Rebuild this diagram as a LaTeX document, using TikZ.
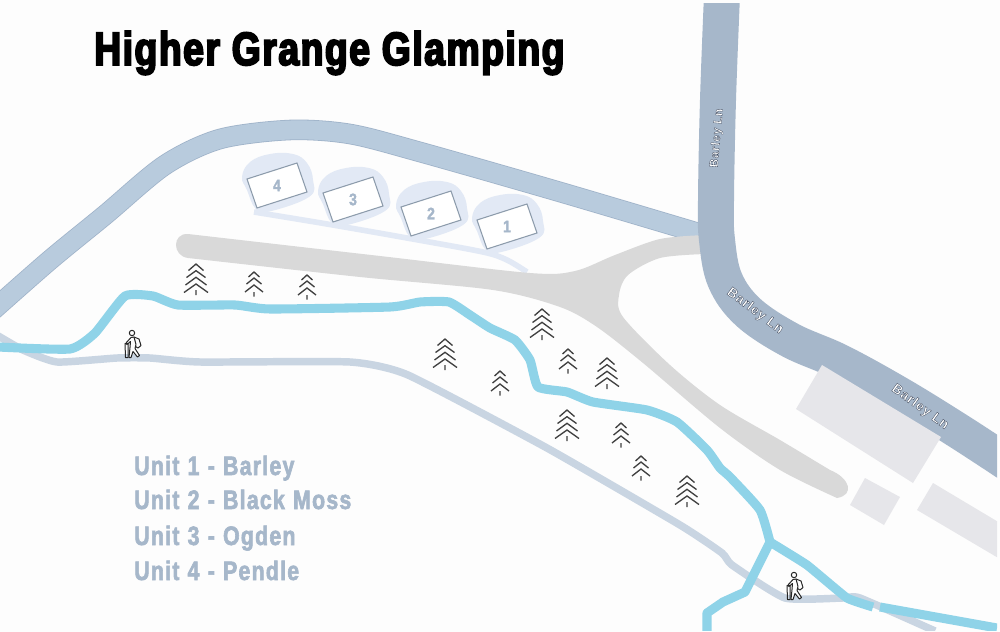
\documentclass[tikz,border=0pt]{standalone}
\usepackage{fontspec}
\setmainfont{Liberation Sans}
\newfontfamily\titlefont[FakeStretch=0.8,FakeBold=4,LetterSpace=3.2]{Liberation Sans Bold}
\newfontfamily\legendfont[FakeStretch=0.8,FakeBold=2.2,LetterSpace=4.6,WordSpace=1.15]{Liberation Sans Bold}
\newfontfamily\numfont[FakeStretch=0.85,FakeBold=1.5]{Liberation Sans Bold}
\newfontfamily\labelfont[LetterSpace=5]{Liberation Sans Bold}
\definecolor{paper}{HTML}{FDFDFD}
\definecolor{lane}{HTML}{A6B7CA}
\definecolor{upperroad}{HTML}{B8CBDD}
\definecolor{upperedge}{HTML}{9FB3C9}
\definecolor{track}{HTML}{D9D9D9}
\definecolor{trail}{HTML}{8FD3E8}
\definecolor{walk}{HTML}{C9D5E2}
\definecolor{shed}{HTML}{E6E6EA}
\definecolor{pad}{HTML}{E2E9F5}
\definecolor{treeink}{HTML}{404040}
\tikzset{
  trailline/.style={draw=trail,line width=6.8pt,line join=round},
  walkline/.style={draw=walk,line width=5.6pt,line join=round},
  shedbox/.style={fill=shed},
  unitbox/.style={fill=white,draw=lane!85!black,line width=0.8pt},
  unitnum/.style={font=\numfont\fontsize{12.5}{13}\selectfont,text=lane,inner sep=0pt},
  legendtext/.style={font=\legendfont\fontsize{20}{20}\selectfont,text=lane,anchor=base west,inner sep=0pt},
  lanelabel/.style={font=\labelfont\fontsize{9}{9}\selectfont,text=white,inner sep=0pt},
  widelabel/.style={font=\labelfont\fontsize{10.2}{10}\selectfont,text=white,inner sep=0pt},
  treeline/.style={draw=treeink,line width=1pt},
  hikerline/.style={draw=black!85,line width=0.75pt,line join=round,line cap=round},
}
\newcommand{\outlined}[1]{\special{pdf:code 2 Tr 0.25 w 0.25 0.29 0.37 RG}#1\special{pdf:code 0 Tr}}
\newcommand{\bigtree}[2]{\begin{scope}[shift={(#1,#2)}]
  \draw[treeline] (-7.5,6.5)--(0,0)--(7.5,6.5) (-9.5,13.5)--(0,6.7)--(9.5,13.5)
     (-10.5,21)--(0,13.3)--(10.5,21) (-12,28.5)--(0,20)--(12,28.5) (0,26)--(0,31);
\end{scope}}
\newcommand{\smalltree}[2]{\begin{scope}[shift={(#1,#2)}]
  \draw[treeline] (-5.5,5)--(0,0)--(5.5,5) (-7.5,12)--(0,6)--(7.5,12)
     (-9,20)--(0,13)--(9,20) (0,20)--(0,24.5);
\end{scope}}
\newcommand{\hiker}[2]{\begin{scope}[shift={(#1,#2)}]
  \draw[hikerline] (6,-16.5) circle (2.7);
  \draw[hikerline,fill=paper] (8,-12.5) -- (13,-10.5) -- (15,-4) -- (12,-1.5) -- (9.5,-3) -- cycle;
  \draw[hikerline,fill=paper] (5,-12) -- (8,-12.5) -- (10,-5) -- (9,-1) -- (13.5,6) -- (11.5,7.5) -- (7,2) -- (5,8) -- (3,8) -- (4,-2) -- (4.5,-8) -- (1,-5) -- (0,-6.5) -- cycle;
  \draw[hikerline] (-1,-6) -- (2,-6) -- (2,8) -- (-0.5,8) -- cycle;
\end{scope}}
\newcommand{\pod}[4]{\begin{scope}[shift={(#1,#2)}]
  \fill[pad] plot[smooth cycle,tension=0.7] coordinates {(242,177) (250,162) (270,154) (293,154) (307,163) (313,180) (309,197) (267,212) (255,208) (247,190)};
  \draw[unitbox] (297,163) -- (307,192) -- (257,208) -- (247,179) -- cycle;
  \node[unitnum] (#4) at (277,185.5) {#3};
\end{scope}}
\begin{document}
\begin{tikzpicture}[x=0.75pt,y=-0.75pt]
\useasboundingbox (0,0) rectangle (1000,632);
\fill[paper] (0,0) rectangle (1000,632);
\begin{scope}
\clip (0,3) rectangle (997,630);
% pads and their access path
\draw[pad,line width=4.2pt] plot[smooth] coordinates {(254,212) (327,224) (407,238) (483,252) (507,260) (527,272)};
\pod{0}{0}{4}{u4}
\pod{76}{14}{3}{u3}
\pod{154}{28}{2}{u2}
\pod{230}{41}{1}{u1}
% upper road
\draw[upperedge,line width=15.4pt] plot[smooth,tension=0.5] coordinates {(-8,311) (50,260) (105,215) (165,165) (220,139) (290,130) (350,134) (420,152) (560,192) (705,235)};
\draw[upperroad,line width=14.2pt] plot[smooth,tension=0.5] coordinates {(-8,311) (50,260) (105,215) (165,165) (220,139) (290,130) (350,134) (420,152) (560,192) (705,235)};
% farm track
\fill[track] plot[smooth,tension=0.5] coordinates {(188,234) (380,256) (530,273) (575,271) (615,255) (660,239) (705,235)}
  -- plot[smooth,tension=0.5] coordinates {(705,254) (660,258) (628,275) (619,295) (623,317) (670,365) (720,405) (780,440) (830,470)}
  .. controls (850,478) and (855,495) .. (837,498)
  -- plot[smooth,tension=0.5] coordinates {(837,498) (780,470) (720,428) (643,363) (597,327) (560,307) (493,290) (360,277) (188,258)}
  .. controls (172,256) and (172,233) .. (188,234) -- cycle;
% lane
\draw[lane,line width=27pt] plot[smooth,tension=0.6] coordinates {(722,-5) (718,100) (716,200) (717,240) (725,280) (748,312) (790,340) (840,362) (900,395) (960,432) (1015,468)};
% buildings
\fill[shedbox] (822,365) -- (941,437) -- (913,483) -- (796,409) -- cycle;
\fill[shedbox] (865,478) -- (900,497) -- (884,525) -- (850,505) -- cycle;
\fill[shedbox] (933,483) -- (1000,523) -- (1000,559) -- (917,510) -- cycle;
% walking path
\draw[walkline] plot[smooth,tension=0.3] coordinates {(-5,334) (23,350) (57,362) (117,358) (150,358) (200,362) (350,362) (408,375) (547,448) (680,525) (722,553) (732,565) (785,598) (843,598) (860,598) (935,631)};
% trail
\draw[trailline] plot[smooth,tension=0.3] coordinates {(-2,347) (70,349) (95,333) (125,296) (153,296) (178,305) (235,305) (270,309) (390,307) (420,302) (449,302) (470,315) (490,328) (515,340) (530,360) (538,387) (567,392) (593,402) (647,410) (677,422) (707,450) (720,468) (730,477) (760,510) (770,542)};
\draw[trailline] (770,542) -- (745,592) -- (723,602) -- (707,613) -- (707,635);
\draw[trailline] plot[smooth,tension=0.2] coordinates {(770,542) (807,565) (847,598) (873,607)};
\draw[trailline] (880,607) -- (997,628);
\end{scope}
% trees
\bigtree{196}{264}\smalltree{254}{272}\smalltree{307}{275}
\bigtree{445}{339}\bigtree{542}{309}\bigtree{607}{358}\bigtree{567}{410}\bigtree{687}{476}
\smalltree{568}{349}\smalltree{500}{371}\smalltree{621}{423}\smalltree{641}{456}
% hikers
\hiker{126}{349.5}
\hiker{788}{591.5}
% lane labels
\node[lanelabel,rotate=85] (l1) at (717,138) {\outlined{Barley Ln}};
\node[widelabel,rotate=-37] (l2) at (755,311) {\outlined{Barley Ln}};
\node[widelabel,rotate=-36] (l3) at (920,407) {\outlined{Barley Ln}};
% title and legend
\node[font=\titlefont\fontsize{35}{36}\selectfont,anchor=base west,inner sep=0pt] (title) at (94,65) {Higher Grange Glamping};
\node[legendtext] (a) at (134,475) {Unit 1 - Barley};
\node[legendtext] (b) at (134,509) {Unit 2 - Black Moss};
\node[legendtext] (c) at (134,545) {Unit 3 - Ogden};
\node[legendtext] (d) at (134,580) {Unit 4 - Pendle};
\end{tikzpicture}
\end{document}
